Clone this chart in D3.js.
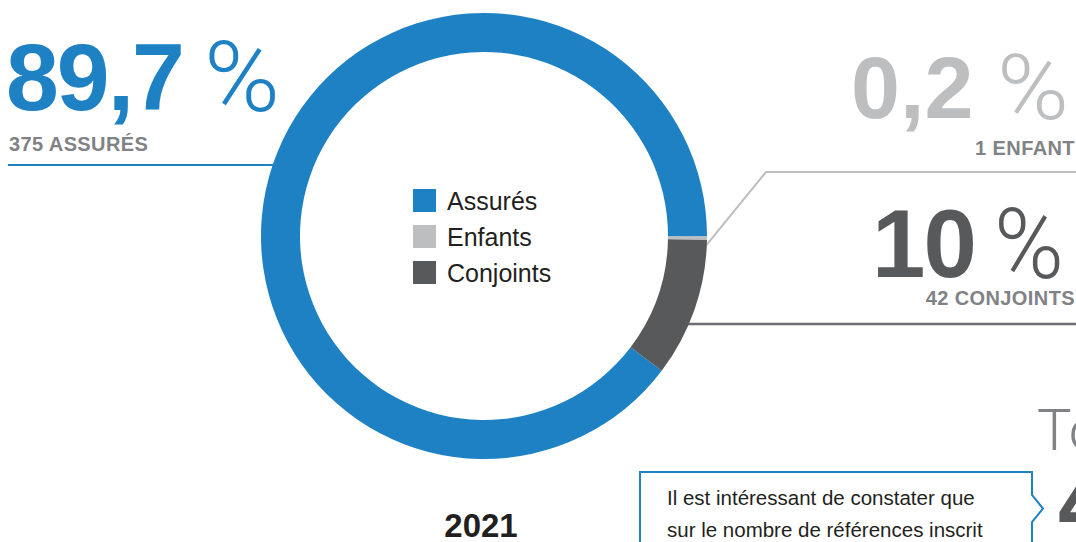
<!DOCTYPE html>
<html lang="fr">
<head>
<meta charset="utf-8">
<script src="https://cdn.jsdelivr.net/npm/d3@7"></script>
<style>
  html, body { margin: 0; padding: 0; background: #fff; overflow: hidden; }
  svg { display: block; }
  text { font-family: "Liberation Sans", Arial, Helvetica, sans-serif; }
  .light { font-family: Roboto, "Liberation Sans", sans-serif; font-weight: 300; }
</style>
</head>
<body>
<svg id="chart" width="1076" height="542"></svg>
<script>
// Répartition des références inscrites, 2021
const categories = ["Assurés", "Enfants", "Conjoints"];
const counts = [375, 1, 42];
const countLabels = ["375 ASSURÉS", "1 ENFANT", "42 CONJOINTS"];
const colors = ["#1e81c4", "#bcbec0", "#58595b"];
const year = "2021";
const totalLabel = "Total";
const noteLines = [
  "Il est intéressant de constater que",
  "sur le nombre de références inscrit"
];

const total = d3.sum(counts);
const pct = v => {
  const p = Math.round(v / total * 1000) / 10;
  return (p % 1 === 0 ? d3.format("d")(p) : d3.format(".1f")(p)).replace(".", ",");
};

const svg = d3.select("#chart");
const cx = 484, cy = 236, R = 223, r = 184;

// Conjoints start just past 3 o'clock; the other slices follow around the ring
const conjStart = 91 * Math.PI / 180;
const offset = conjStart - 2 * Math.PI * (counts[0] + counts[1]) / total;
const pie = d3.pie().sort(null).value(d => d)
  .startAngle(offset).endAngle(offset + 2 * Math.PI);
const arcs = pie(counts);
const arc = d3.arc().innerRadius(r).outerRadius(R);

const polar = (a, rad) => [cx + rad * Math.sin(a), cy - rad * Math.cos(a)];
const edgeX = y => cx + Math.sqrt(R * R - (y - cy) * (y - cy));

// Leader lines (drawn beneath the ring)
const g = svg.append("g");
g.append("line")
  .attr("x1", 8).attr("x2", 2 * cx - edgeX(165) + 2)
  .attr("y1", 165).attr("y2", 165)
  .attr("stroke", colors[0]).attr("stroke-width", 2);

const enfMid = (arcs[1].startAngle + arcs[1].endAngle) / 2;
const [ex, ey] = polar(enfMid + 0.035, R - 1);
g.append("path")
  .attr("d", `M${ex},${ey} L766,172 H1076`)
  .attr("fill", "none").attr("stroke", colors[1]).attr("stroke-width", 2);

g.append("line")
  .attr("x1", edgeX(324) - 2).attr("x2", 1076)
  .attr("y1", 324).attr("y2", 324)
  .attr("stroke", "#6d6e71").attr("stroke-width", 2.5);

// Donut ring
svg.append("g").attr("transform", `translate(${cx},${cy})`)
  .selectAll("path").data(arcs).join("path")
  .attr("d", arc)
  .attr("fill", (d, i) => colors[i]);

// Legend in the centre
const leg = svg.append("g").attr("transform", "translate(413,189)");
const items = leg.selectAll("g").data(categories).join("g")
  .attr("transform", (d, i) => `translate(0,${i * 36})`);
items.append("rect").attr("width", 23).attr("height", 23)
  .attr("fill", (d, i) => colors[i]);
items.append("text").attr("x", 34).attr("y", 21)
  .attr("font-size", 25).attr("fill", "#231f20")
  .text(d => d);

// Percentage call-outs: bold figure, thin wide percent sign, count below
function bigValue(x, y, size, spacing, color, value, pctX, pctW, anchorSub, subX, subY, sub) {
  svg.append("text").attr("x", x).attr("y", y)
    .attr("font-size", size).attr("font-weight", 700)
    .attr("letter-spacing", spacing).attr("fill", color).text(value);
  svg.append("text").attr("class", "light").attr("x", pctX).attr("y", y + 1)
    .attr("font-size", size * 1.03)
    .attr("textLength", pctW).attr("lengthAdjust", "spacingAndGlyphs")
    .attr("fill", color).text("%");
  svg.append("text").attr("x", subX).attr("y", subY)
    .attr("text-anchor", anchorSub)
    .attr("font-size", 20).attr("font-weight", 700).attr("letter-spacing", 0.4)
    .attr("fill", "#808285").text(sub);
}
bigValue(6, 110, 95, -2, colors[0], pct(counts[0]), 204, 76, "start", 9, 151, countLabels[0]);
bigValue(851, 118, 88, 0, colors[1], pct(counts[1]), 997, 72, "end", 1075, 155, countLabels[1]);
bigValue(872, 277, 96, -2, colors[2], pct(counts[2]), 994, 70, "end", 1075, 305, countLabels[2]);

// Year under the ring
svg.append("text").attr("x", cx - 3).attr("y", 537)
  .attr("text-anchor", "middle").attr("font-size", 33)
  .attr("font-weight", 700).attr("fill", "#231f20").text(year);

// Note box with a right-pointing notch
svg.append("path")
  .attr("d", "M640,545 V472 H1032 V495 L1043,508.5 L1032,522 V545")
  .attr("fill", "none").attr("stroke", colors[0]).attr("stroke-width", 2);
svg.append("g").selectAll("text").data(noteLines).join("text")
  .attr("x", 667).attr("y", (d, i) => 505 + i * 32)
  .attr("font-size", 20.5).attr("fill", "#231f20")
  .text(d => d);

// Total
svg.append("text").attr("class", "light").attr("x", 1037).attr("y", 450)
  .attr("font-size", 58).attr("fill", "#808285").text(totalLabel);
svg.append("text").attr("x", 1058).attr("y", 536)
  .attr("font-size", 96).attr("font-weight", 700)
  .attr("fill", "#58595b").text(d3.format("d")(total));
</script>
</body>
</html>
